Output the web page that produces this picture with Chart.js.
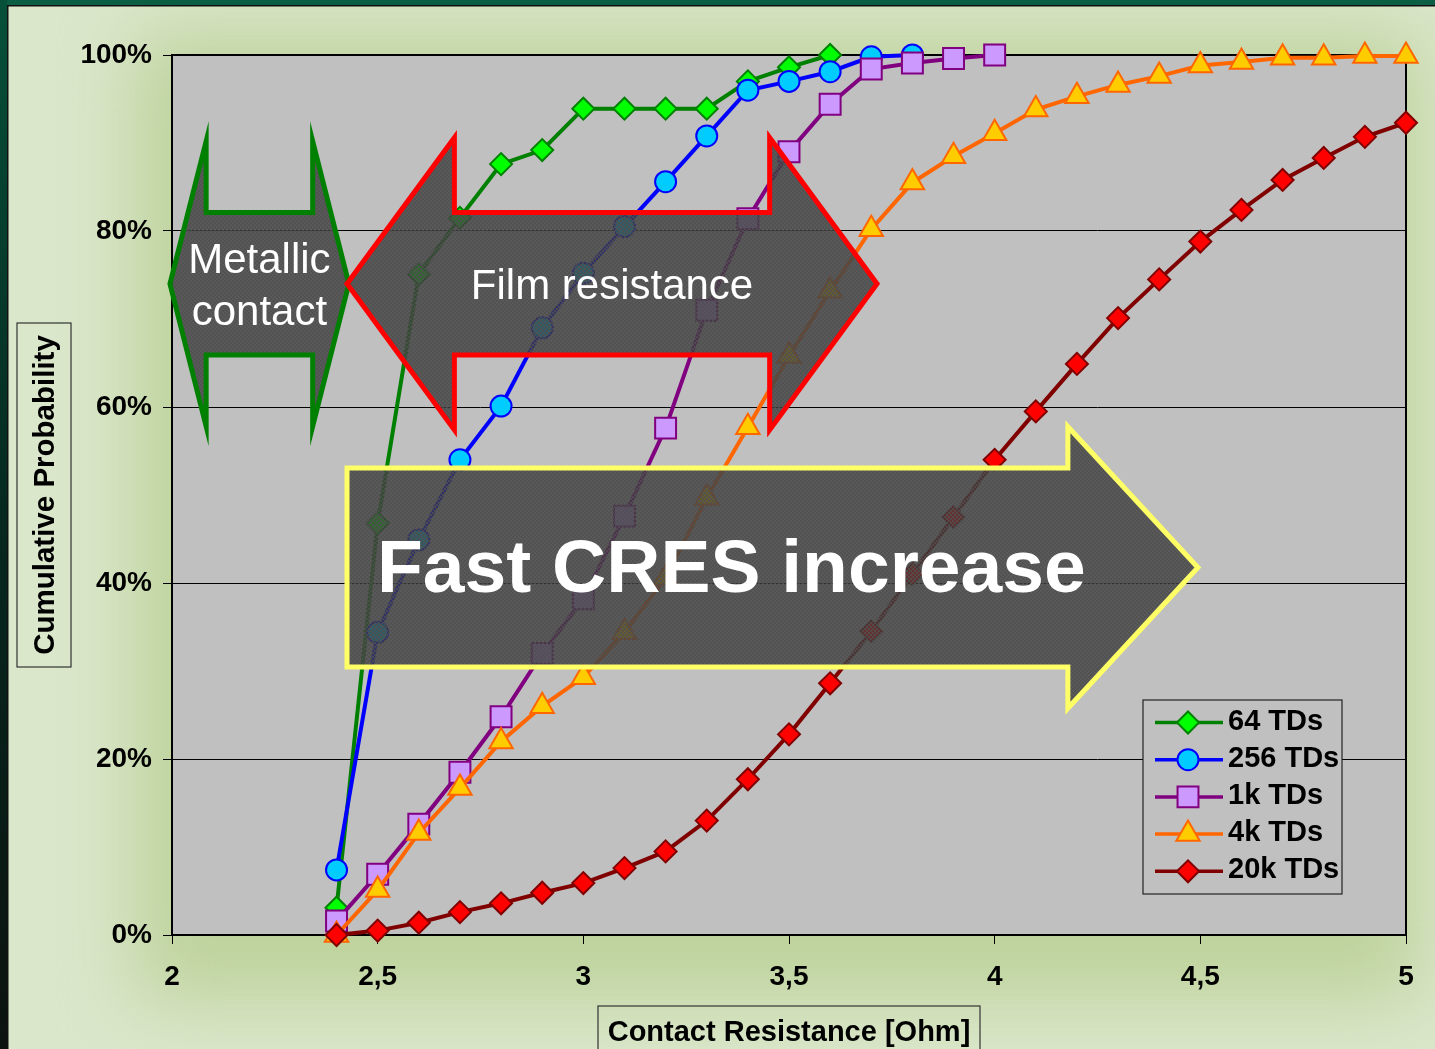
<!DOCTYPE html>
<html>
<head>
<meta charset="utf-8">
<title>Cumulative Probability vs Contact Resistance</title>
<script src="https://cdn.jsdelivr.net/npm/chart.js@4.4.0/dist/chart.umd.min.js"></script>
<style>
  html, body { margin: 0; padding: 0; background: #d8e5c6; overflow: hidden; }
  canvas { display: block; }
</style>
</head>
<body>
<canvas id="cresChart" width="1435" height="1049"></canvas>
<script>
const FONT = "'Liberation Sans', Arial, Helvetica, sans-serif";

// Contact resistance steps [Ohm]
const resistance = [2.4, 2.5, 2.6, 2.7, 2.8, 2.9, 3.0, 3.1, 3.2, 3.3, 3.4, 3.5, 3.6, 3.7,
  3.8, 3.9, 4.0, 4.1, 4.2, 4.3, 4.4, 4.5, 4.6, 4.7, 4.8, 4.9, 5.0];

// Cumulative probability [%] per number of touchdowns
const seriesNames = ["64 TDs", "256 TDs", "1k TDs", "4k TDs", "20k TDs"];
const td64 = [3.1, 46.8, 75.1, 81.5, 87.6, 89.2, 93.9, 93.9, 93.9, 93.9, 97.0, 98.6, 100];
const td256 = [7.4, 34.4, 44.9, 54.0, 60.1, 69.0, 75.2, 80.5, 85.6, 90.8, 96.0, 97.0, 98.1, 99.8, 100];
const td1k = [1.6, 6.9, 12.6, 18.5, 24.8, 32.0, 38.2, 47.6, 57.6, 71.0, 81.4, 89.0, 94.4, 98.4,
  99.1, 99.6, 100];
const td4k = [0, 5.1, 11.6, 16.7, 22.0, 26.0, 29.3, 34.4, 40.6, 49.7, 57.7, 65.8, 73.2, 80.2,
  85.5, 88.5, 91.1, 93.8, 95.3, 96.6, 97.6, 98.8, 99.2, 99.7, 99.7, 99.9, 99.9];
const td20k = [0, 0.5, 1.4, 2.6, 3.6, 4.8, 5.9, 7.6, 9.5, 13.0, 17.7, 22.8, 28.6, 34.5,
  41.0, 47.5, 54.0, 59.5, 64.9, 70.1, 74.5, 78.8, 82.4, 85.8, 88.3, 90.7, 92.3];
const seriesValues = [td64, td256, td1k, td4k, td20k];

// Axis ticks
const xMin = 2, xMax = 5, xStep = 0.5;
const yMin = 0, yMax = 100, yStep = 20;

const styles = [
  { line: "#008000", fill: "#00ff00", point: "rectRot", radius: 11 },
  { line: "#0000ff", fill: "#00ccff", point: "circle", radius: 10.5 },
  { line: "#800080", fill: "#cc99ff", point: "rect", radius: 14.8 },
  { line: "#ff6600", fill: "#ffcc00", point: "triangle", radius: 13.5 },
  { line: "#800000", fill: "#ff0000", point: "rectRot", radius: 11 },
];

// Overlay arrows, in axis units (Ohm / %)
const arrows = [
  { x0: 1.995, x1: 2.43, head: 0.088, yc: 74.0, shaft: 8.1, headH: 16.2, both: true,
    stroke: "#008000", text: ["Metallic", "contact"], font: "42px " + FONT },
  { x0: 2.4255, x1: 3.714, head: 0.261, yc: 74.0, shaft: 8.1, headH: 16.6, both: true,
    stroke: "#ff0000", text: ["Film resistance"], font: "42px " + FONT },
  { x0: 2.4255, x1: 4.494, head: 0.316, yc: 41.76, shaft: 11.3, headH: 16.0, both: false,
    stroke: "#ffff66", text: ["Fast CRES increase"], font: "bold 75px " + FONT, left: true },
];

function points(values) {
  return values.map((v, i) => ({ x: resistance[i], y: v }));
}

function arrowPath(a) {
  const p = [];
  const yT = a.yc + a.shaft, yB = a.yc - a.shaft;
  if (a.both) {
    p.push([a.x0, a.yc], [a.x0 + a.head, a.yc + a.headH], [a.x0 + a.head, yT]);
  } else {
    p.push([a.x0, yT]);
  }
  p.push([a.x1 - a.head, yT], [a.x1 - a.head, a.yc + a.headH], [a.x1, a.yc],
    [a.x1 - a.head, a.yc - a.headH], [a.x1 - a.head, yB]);
  if (a.both) {
    p.push([a.x0 + a.head, yB], [a.x0 + a.head, a.yc - a.headH]);
  } else {
    p.push([a.x0, yB]);
  }
  return p;
}

let hatch = null;
function hatchPattern(ctx) {
  if (hatch) return hatch;
  const c = document.createElement("canvas");
  c.width = 4; c.height = 4;
  const g = c.getContext("2d");
  g.fillStyle = "rgba(62,62,62,0.8)";
  g.fillRect(0, 0, 4, 4);
  g.fillStyle = "rgba(80,80,80,0.8)";
  g.fillRect(0, 0, 2, 2);
  g.fillRect(2, 2, 2, 2);
  hatch = ctx.createPattern(c, "repeat");
  return hatch;
}

function marker(ctx, style, x, y) {
  const r = style.radius;
  ctx.beginPath();
  if (style.point === "rectRot") {
    ctx.moveTo(x - r, y); ctx.lineTo(x, y - r); ctx.lineTo(x + r, y); ctx.lineTo(x, y + r);
  } else if (style.point === "circle") {
    ctx.arc(x, y, r, 0, Math.PI * 2);
  } else if (style.point === "rect") {
    const s = r * Math.SQRT1_2;
    ctx.rect(x - s, y - s, 2 * s, 2 * s);
  } else {
    ctx.moveTo(x, y - r);
    ctx.lineTo(x + r * 0.866, y + r * 0.5);
    ctx.lineTo(x - r * 0.866, y + r * 0.5);
  }
  ctx.closePath();
  ctx.fill();
  ctx.stroke();
}

const backgroundPlugin = {
  id: "background",
  beforeDraw(chart) {
    const ctx = chart.ctx, W = chart.width, H = chart.height, a = chart.chartArea;
    ctx.save();
    ctx.fillStyle = "#dbe7cb";
    ctx.fillRect(0, 0, W, H);
    ctx.filter = "blur(38px)";
    ctx.fillStyle = "#bdd29b";
    ctx.fillRect(135, 35, 1285, 965);
    ctx.filter = "none";

    // dark slide frame on top and left
    ctx.fillStyle = "#0b5e43";
    ctx.fillRect(0, 0, W, 5);
    const g = ctx.createLinearGradient(0, 0, 0, H);
    g.addColorStop(0, "#07503a");
    g.addColorStop(0.5, "#06281e");
    g.addColorStop(1, "#0c1210");
    ctx.fillStyle = g;
    ctx.fillRect(0, 0, 7, H);
    ctx.fillStyle = "#111";
    ctx.fillRect(7, 5, W, 1.5);
    ctx.fillRect(7, 5, 1.5, H);

    // plot area
    ctx.fillStyle = "#c0c0c0";
    ctx.fillRect(a.left, a.top, a.right - a.left, a.bottom - a.top);
    ctx.restore();
  },
  beforeDatasetsDraw(chart) {
    const ctx = chart.ctx, a = chart.chartArea;
    ctx.save();
    ctx.strokeStyle = "#000";
    ctx.lineWidth = 2;
    ctx.strokeRect(a.left, a.top, a.right - a.left, a.bottom - a.top);
    ctx.restore();
  },
};

const overlayPlugin = {
  id: "overlay",
  afterDatasetsDraw(chart) {
    const ctx = chart.ctx, sx = chart.scales.x, sy = chart.scales.y;
    ctx.save();
    arrows.forEach((a) => {
      const pts = arrowPath(a).map(([x, y]) => [sx.getPixelForValue(x), sy.getPixelForValue(y)]);
      ctx.beginPath();
      pts.forEach(([x, y], i) => (i ? ctx.lineTo(x, y) : ctx.moveTo(x, y)));
      ctx.closePath();
      ctx.fillStyle = hatchPattern(ctx);
      ctx.fill();
      ctx.lineWidth = 5;
      ctx.lineJoin = "miter";
      ctx.strokeStyle = a.stroke;
      ctx.stroke();

      ctx.fillStyle = "#fff";
      ctx.font = a.font;
      ctx.textBaseline = "middle";
      const yc = sy.getPixelForValue(a.yc);
      if (a.left) {
        ctx.textAlign = "left";
        ctx.fillText(a.text[0], sx.getPixelForValue(a.x0) + 30, yc + 4);
      } else {
        ctx.textAlign = "center";
        const xc = (sx.getPixelForValue(a.x0) + sx.getPixelForValue(a.x1)) / 2;
        const step = 52;
        a.text.forEach((t, i) => {
          ctx.fillText(t, xc, yc + 4 + (i - (a.text.length - 1) / 2) * step);
        });
      }
    });
    ctx.restore();
  },
  afterDraw(chart) {
    const ctx = chart.ctx, a = chart.chartArea;
    ctx.save();

    // legend box inside the plot
    const lx = a.right - 263, ly = a.bottom - 235, lw = 199, lh = 194;
    ctx.fillStyle = "#c0c0c0";
    ctx.fillRect(lx, ly, lw, lh);
    ctx.strokeStyle = "#222";
    ctx.lineWidth = 1.2;
    ctx.strokeRect(lx, ly, lw, lh);
    ctx.font = "bold 29px " + FONT;
    ctx.textBaseline = "middle";
    ctx.textAlign = "left";
    seriesNames.forEach((name, i) => {
      const st = styles[i];
      const y = ly + 22.5 + i * 37.2;
      ctx.strokeStyle = st.line;
      ctx.lineWidth = 3.5;
      ctx.beginPath();
      ctx.moveTo(lx + 12, y);
      ctx.lineTo(lx + 80, y);
      ctx.stroke();
      ctx.fillStyle = st.fill;
      ctx.lineWidth = 2;
      marker(ctx, st, lx + 45, y);
      ctx.fillStyle = "#000";
      ctx.fillText(name, lx + 85, y - 1);
    });

    // axis titles in boxes
    ctx.strokeStyle = "#333";
    ctx.lineWidth = 1.2;
    const cy = (a.top + a.bottom) / 2;
    ctx.strokeRect(17, cy - 172, 54, 344);
    ctx.save();
    ctx.translate(46, cy);
    ctx.rotate(-Math.PI / 2);
    ctx.fillStyle = "#000";
    ctx.font = "bold 29.5px " + FONT;
    ctx.textAlign = "center";
    ctx.fillText("Cumulative Probability", 0, 0);
    ctx.restore();

    const cx = (a.left + a.right) / 2;
    ctx.strokeRect(cx - 191, 1006, 382, 60);
    ctx.fillStyle = "#000";
    ctx.font = "bold 29px " + FONT;
    ctx.textAlign = "center";
    ctx.fillText("Contact Resistance [Ohm]", cx, 1033);
    ctx.restore();
  },
};

const datasets = seriesValues.map((values, i) => ({
  label: seriesNames[i],
  data: points(values),
  borderColor: styles[i].line,
  borderWidth: 4,
  backgroundColor: styles[i].fill,
  pointStyle: styles[i].point,
  pointRadius: styles[i].radius,
  pointBackgroundColor: styles[i].fill,
  pointBorderColor: styles[i].line,
  pointBorderWidth: 2,
  tension: 0,
  clip: false,
  order: seriesValues.length - i,
}));

new Chart(document.getElementById("cresChart"), {
  type: "line",
  data: { datasets },
  options: {
    responsive: false,
    animation: false,
    devicePixelRatio: 1,
    layout: { padding: { top: 55, right: 29, left: 0, bottom: 0 } },
    plugins: { legend: { display: false }, tooltip: { enabled: false } },
    scales: {
      x: {
        type: "linear",
        min: xMin,
        max: xMax,
        ticks: {
          stepSize: xStep,
          color: "#000",
          font: { family: FONT, size: 28, weight: "bold" },
          padding: 16,
          callback: (v) => String(v).replace(".", ","),
        },
        grid: { drawOnChartArea: false, tickLength: 9, color: "#000", lineWidth: 1 },
        border: { display: false },
        afterFit: (s) => { s.height = 114; },
      },
      y: {
        min: yMin,
        max: yMax,
        ticks: {
          stepSize: yStep,
          color: "#000",
          font: { family: FONT, size: 28, weight: "bold" },
          padding: 11,
          callback: (v) => v + "%",
        },
        grid: { tickLength: 9, color: "#000", lineWidth: 1 },
        border: { display: false },
        afterFit: (s) => { s.width = 172; },
      },
    },
  },
  plugins: [backgroundPlugin, overlayPlugin],
});
</script>
</body>
</html>
